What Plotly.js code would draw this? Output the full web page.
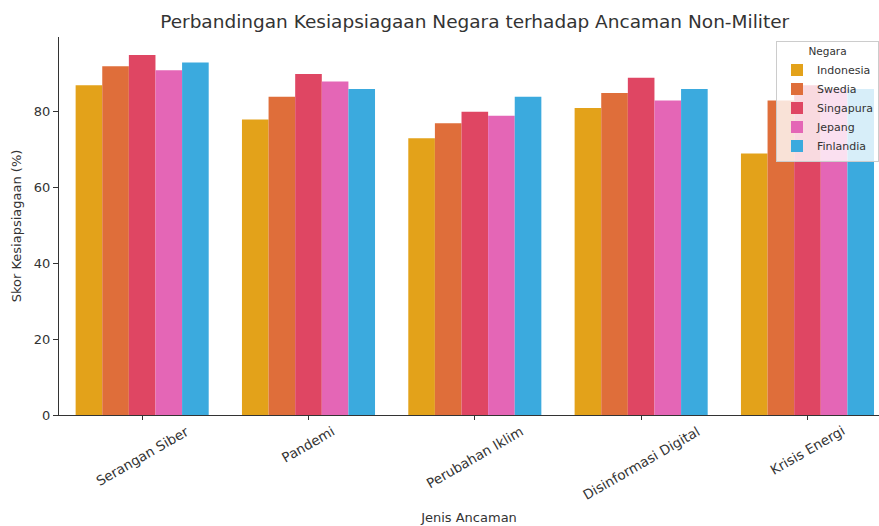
<!DOCTYPE html>
<html>
<head>
<meta charset="utf-8">
<script src="https://cdn.plot.ly/plotly-3.0.1.min.js"></script>
<style>html,body{margin:0;padding:0;background:#fff;}#chart{width:879px;height:526px;}</style>
</head>
<body>
<div id="chart"></div>
<script>
const categories = ["Serangan Siber", "Pandemi", "Perubahan Iklim", "Disinformasi Digital", "Krisis Energi"];
const countries = ["Indonesia", "Swedia", "Singapura", "Jepang", "Finlandia"];
const indonesia = [87, 78, 73, 81, 69];
const swedia = [92, 84, 77, 85, 83];
const singapura = [95, 90, 80, 89, 87];
const jepang = [91, 88, 79, 83, 86];
const finlandia = [93, 86, 84, 86, 86];
const seriesValues = [indonesia, swedia, singapura, jepang, finlandia];
const colors = ["#E3A21A", "#DF6E3A", "#DF4663", "#E466B6", "#3BAADE"];
const yTicks = [0, 20, 40, 60, 80];

const FONT = "DejaVu Sans, sans-serif";
const xIdx = categories.map((_, i) => i);

const traces = countries.map((c, k) => ({
  type: "bar",
  name: c,
  x: xIdx,
  y: seriesValues[k],
  marker: {color: colors[k], line: {width: 0}},
  hoverinfo: "x+y+name"
}));

const annotations = categories.map((c, i) => ({
  text: c, x: i, y: 0, xref: "x", yref: "paper",
  xanchor: "center", yanchor: "top", yshift: -5,
  textangle: -30, showarrow: false,
  font: {family: FONT, size: 13.5, color: "#333"}
}));

const layout = {
  width: 879, height: 526,
  paper_bgcolor: "#fff", plot_bgcolor: "#fff",
  margin: {l: 59, r: 0, t: 37, b: 111},
  barmode: "group", bargap: 0.2, bargroupgap: 0,
  font: {family: FONT, color: "#333"},
  title: {text: "Perbandingan Kesiapsiagaan Negara terhadap Ancaman Non-Militer",
          font: {family: FONT, size: 18.5, color: "#333"},
          x: 0.54, xanchor: "center", y: 0.96, yanchor: "middle"},
  xaxis: {
    range: [-0.5, 4.43], tickmode: "array", tickvals: xIdx, showticklabels: false,
    ticks: "outside", ticklen: 4, tickcolor: "#333", showline: true, linecolor: "#333", linewidth: 1,
    showgrid: false, zeroline: false,
    title: {text: "Jenis Ancaman", font: {family: FONT, size: 13, color: "#333"}, standoff: 93}
  },
  yaxis: {
    range: [0, 99.75], tickmode: "array", tickvals: yTicks, ticktext: yTicks.map(String),
    ticks: "outside", ticklen: 5, tickcolor: "#333", showline: true, linecolor: "#333", linewidth: 1,
    showgrid: false, zeroline: false, tickfont: {family: FONT, size: 13, color: "#333"},
    title: {text: "Skor Kesiapsiagaan (%)", font: {family: FONT, size: 13, color: "#333"}, standoff: 9}
  },
  legend: {
    x: 1, xanchor: "right", y: 0.99, yanchor: "top",
    bgcolor: "rgba(255,255,255,0.8)", bordercolor: "#cccccc", borderwidth: 1,
    font: {family: FONT, size: 11, color: "#333"},
    title: {text: "Negara", side: "top center", font: {family: FONT, size: 10.5, color: "#333"}},
    tracegroupgap: 0, itemwidth: 30
  },
  annotations: annotations,
  showlegend: true
};

Plotly.newPlot("chart", traces, layout, {displayModeBar: false, staticPlot: true});
</script>
</body>
</html>
